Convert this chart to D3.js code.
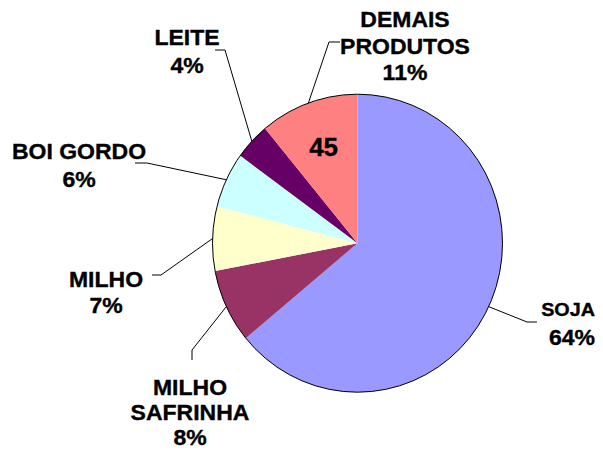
<!DOCTYPE html>
<html>
<head>
<meta charset="utf-8">
<script src="https://cdn.jsdelivr.net/npm/d3@7/dist/d3.min.js"></script>
<style>
  html, body { margin: 0; padding: 0; background: #fff; }
  svg { display: block; }
  text { font-family: "Liberation Sans", Arial, sans-serif; font-weight: bold; fill: #000; stroke: #000; stroke-width: 0.35px; }
</style>
</head>
<body>
<svg id="chart" width="603" height="452"></svg>
<script>
// ---- data ----
const categories = ["SOJA", "MILHO SAFRINHA", "MILHO", "BOI GORDO", "LEITE", "DEMAIS PRODUTOS"];
const values = [64, 8, 7, 6, 4, 11];
const labelLines = [["SOJA", "64%"], ["MILHO", "SAFRINHA", "8%"], ["MILHO", "7%"], ["BOI GORDO", "6%"], ["LEITE", "4%"], ["DEMAIS", "PRODUTOS", "11%"]];
const innerLabel = { category: "DEMAIS PRODUTOS", text: "45" };

// ---- style / layout ----
const colors = ["#9999FF", "#993366", "#FFFFCC", "#CCFFFF", "#660066", "#FF8080"];
const cx = 357.5, cy = 243.2, rx = 145, ry = 149;
const ky = ry / rx;
const sx = 1.07; // horizontal stretch of label text
const labelLayout = [
  { anchor: "end", x: 595, y: 316, lh: 29, sizes: [18.5, 21.5], elbow: [527, 322], end: [537, 322] },
  { anchor: "middle", x: 190, y: 395, lh: 25, sizes: [21.5, 21.5, 21.5], elbow: [192, 350], end: [192, 360] },
  { anchor: "middle", x: 106, y: 287, lh: 26, sizes: [21.5, 21.5], elbow: [161, 275], end: [152, 275] },
  { anchor: "middle", x: 79, y: 159, lh: 28, sizes: [21.5, 21.5], elbow: [147, 163], end: [135, 163] },
  { anchor: "middle", x: 187, y: 45, lh: 28, sizes: [21.5, 21.5], elbow: [225, 50], end: [215, 50] },
  { anchor: "middle", x: 405, y: 27, lh: 26.5, sizes: [21.5, 21.5, 21.5], elbow: [329, 42], end: [340, 42] }
];

const svg = d3.select("#chart");
svg.append("rect").attr("width", 603).attr("height", 452).attr("fill", "#fff");

const data = categories.map((c, i) => ({ category: c, value: values[i], i }));
const pie = d3.pie().sort(null).value(d => d.value);
const arcs = pie(data);
const arc = d3.arc().innerRadius(0).outerRadius(rx);

const g = svg.append("g").attr("transform", `translate(${cx},${cy}) scale(1,${ky})`);
g.selectAll("path.slice").data(arcs).enter().append("path")
  .attr("class", "slice")
  .attr("d", arc)
  .attr("fill", d => colors[d.data.i]);
g.append("ellipse").attr("rx", rx).attr("ry", rx)
  .attr("fill", "none").attr("stroke", "#000").attr("stroke-width", 1)
  .attr("vector-effect", "non-scaling-stroke");

// leader lines
const edgeArc = d3.arc().innerRadius(rx).outerRadius(rx);
arcs.forEach(a => {
  const [ex, ey] = edgeArc.centroid(a);
  const L = labelLayout[a.data.i];
  const pts = [[cx + ex, cy + ey * ky], L.elbow, L.end];
  svg.append("path")
    .attr("d", d3.line()(pts))
    .attr("fill", "none").attr("stroke", "#000").attr("stroke-width", 1);
});

// labels
arcs.forEach(a => {
  const L = labelLayout[a.data.i];
  const lines = labelLines[a.data.i];
  lines.forEach((t, k) => {
    svg.append("text")
      .attr("transform", `translate(${L.x},${L.y + k * L.lh}) scale(${sx},1)`)
      .attr("text-anchor", L.anchor)
      .style("font-size", L.sizes[k] + "px")
      .text(t);
  });
});

// inner label
const inner = arcs.find(a => a.data.category === innerLabel.category);
const innerArc = d3.arc().innerRadius(rx * 0.69).outerRadius(rx * 0.69);
const [ix, iy] = innerArc.centroid(inner);
svg.append("text")
  .attr("x", cx + ix)
  .attr("y", cy + iy * ky + 9.5)
  .attr("text-anchor", "middle")
  .style("font-size", "26px")
  .text(innerLabel.text);
</script>
</body>
</html>
